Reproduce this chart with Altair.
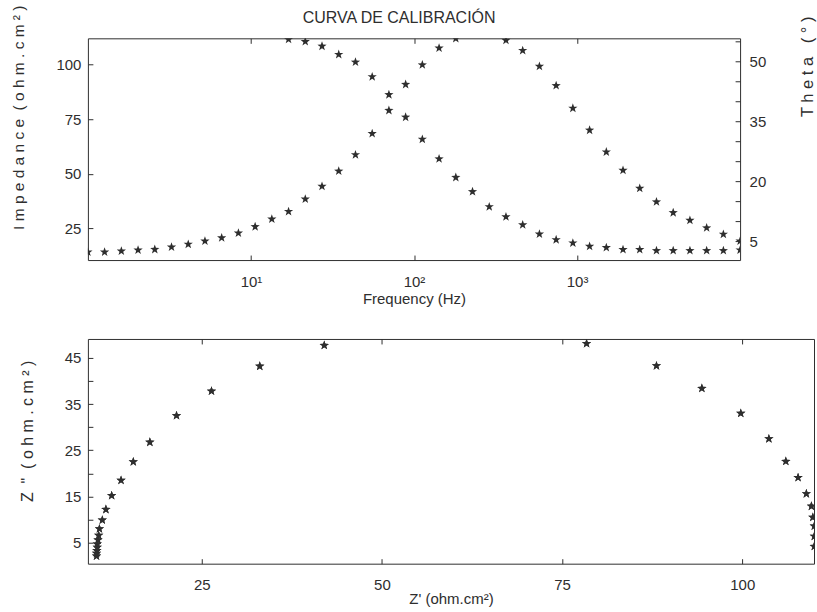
import altair as alt
import pandas as pd

# ---------------- data ----------------
chart_title = "CURVA DE CALIBRACIÓN"

freq_hz = [1.0, 1.266, 1.604, 2.031, 2.572, 3.257, 4.125, 5.223, 6.615, 8.377,
           10.61, 13.43, 17.01, 21.54, 27.28, 34.55, 43.76, 55.41, 70.17, 88.86,
           112.5, 142.5, 180.5, 228.5, 289.4, 366.5, 464.2, 587.8, 744.4, 942.7,
           1194, 1512, 1914, 2424, 3070, 3888, 4924, 6236, 7897, 10000]

theta_deg = [2.25, 2.25, 2.5, 2.75, 2.9, 3.5, 4.2, 5.0, 5.8, 7.0,
             8.6, 10.5, 12.4, 15.5, 18.7, 22.5, 26.6, 31.9, 37.7, 44.2,
             49.1, 53.3, 55.7, None, None, 55.25, 52.7, 48.75, 43.9, 38.25,
             32.75, 27.3, 22.7, 18.2, 14.8, 12.1, 10.2, 8.3, 6.7, 5.0]

impedance = [None, None, None, None, None, None, None, None, None, None,
             None, None, 111.5, 110.5, 108.4, 104.6, 101.1, 94.4, 86.2, 75.9,
             65.8, 56.8, 48.3, 41.8, 34.9, 30.3, 26.6, 22.4, 19.8, 18.3,
             16.8, 16.2, 15.3, 15.3, 14.8, 14.8, 14.8, 14.8, 14.8, 15.1]

z_real = [110.0, 110.0, 110.0, 109.8, 109.6, 108.9, 107.75, 106.05, 103.7, 99.8,
          94.4, 88.1, 78.4, 42.0, 33.05, 26.35, 21.5, 17.8, 15.5, 13.8,
          12.5, 11.7, 11.2, 10.8, 10.7, 10.6, 10.5, 10.5, 10.45, 10.4, 10.4]
z_imag = [4.2, 6.4, 8.6, 10.5, 12.9, 15.6, 19.1, 22.6, 27.5, 33.0,
          38.4, 43.3, 48.1, 47.7, 43.2, 37.8, 32.5, 26.75, 22.5, 18.5,
          15.2, 12.2, 9.9, 8.0, 6.6, 5.6, 4.7, 4.0, 3.3, 2.7, 2.1]

freq_ticks = [10, 100, 1000]
imp_ticks = [25, 50, 75, 100]
theta_ticks = [5, 10, 15, 20, 25, 30, 35, 40, 45, 50, 55]
theta_labels = [5, 20, 35, 50]
zr_ticks = [25, 50, 75, 100]
zi_ticks = [5, 10, 15, 20, 25, 30, 35, 40, 45]
zi_labels = [5, 15, 25, 35, 45]

NB = "\u00a0"
imp_title = "I m p e d a n c e" + NB + "  ( o h m . c m ² )"
theta_title = "T h e t a" + NB + NB + " ( ° )"
zi_title = "Z" + NB + " \"" + NB + " ( o h m . c m ² )"

# ---------------- styling ----------------
FONT = "Liberation Sans"
INK = "#2e2e2e"
STAR = ("M0,-1L0.24,-0.33L0.95,-0.31L0.38,0.12L0.59,0.81L0,0.4"
        "L-0.59,0.81L-0.38,0.12L-0.95,-0.31L-0.24,-0.33Z")
STAR_SIZE = 95


def label_filter(keep):
    return "indexof([" + ",".join(str(v) for v in keep) + "], datum.value) >= 0 ? datum.label : ''"


sup_expr = ("'10' + (datum.value == 10 ? '\u00b9' : datum.value == 100 ? '\u00b2' : '\u00b3')")

imp_df = pd.DataFrame({"f": freq_hz, "imp": impedance}).dropna()
theta_df = pd.DataFrame({"f": freq_hz, "theta": theta_deg}).dropna()
nyq_df = pd.DataFrame({"zr": z_real, "zi": z_imag})

W1, H1 = 653, 222
W2, H2 = 727, 225

xscale = alt.Scale(type="log", domain=[1, 10000], nice=False)

tick_common = dict(domain=False, tickSize=5, offset=-5, grid=False,
                   tickColor=INK, labelColor=INK, titleColor=INK)

imp_layer = alt.Chart(imp_df).mark_point(
    shape=STAR, filled=True, size=STAR_SIZE, color=INK, opacity=1, clip=True
).encode(
    x=alt.X("f:Q", scale=xscale,
            axis=alt.Axis(orient="bottom", values=freq_ticks, labelExpr=sup_expr,
                          title="Frequency (Hz)", labelPadding=14, titlePadding=2,
                          **tick_common)),
    y=alt.Y("imp:Q", scale=alt.Scale(domain=[10.5, 112], nice=False, zero=False),
            axis=alt.Axis(orient="left", values=imp_ticks, format="d",
                          title=imp_title,
                          titleFontSize=15.5,
                          labelPadding=7, titlePadding=29, titleY=79,
                          **tick_common)),
)

theta_layer = alt.Chart(theta_df).mark_point(
    shape=STAR, filled=True, size=STAR_SIZE, color=INK, opacity=1, clip=True
).encode(
    x=alt.X("f:Q", scale=xscale,
            axis=alt.Axis(orient="top", values=freq_ticks, labels=False, title=None,
                          **tick_common)),
    y=alt.Y("theta:Q", scale=alt.Scale(domain=[0.25, 55.75], nice=False, zero=False),
            axis=alt.Axis(orient="right", values=theta_ticks,
                          labelExpr=label_filter(theta_labels),
                          title=theta_title, titleAngle=270, titleFontSize=16.5,
                          labelPadding=9, titlePadding=50, titleY=28,
                          **tick_common)),
)

top = alt.layer(imp_layer, theta_layer).resolve_scale(
    y="independent"
).resolve_axis(x="independent", y="independent").properties(width=W1, height=H1)

zr_scale = alt.Scale(domain=[9.2, 109.96], nice=False, zero=False)
zi_scale = alt.Scale(domain=[0.46, 49.1], nice=False, zero=False)

zi_axis = alt.Axis(orient="left", values=zi_ticks,
                   labelExpr=label_filter(zi_labels),
                   title=zi_title, titleFontSize=16,
                   labelPadding=7, titlePadding=29, titleY=92,
                   **tick_common)

nyq_main = alt.Chart(nyq_df).mark_point(
    shape=STAR, filled=True, size=STAR_SIZE, color=INK, opacity=1, clip=True
).encode(
    x=alt.X("zr:Q", scale=zr_scale,
            axis=alt.Axis(orient="bottom", values=zr_ticks, title="Z' (ohm.cm²)",
                          labelPadding=14, titlePadding=-1, **tick_common)),
    y=alt.Y("zi:Q", scale=zi_scale, axis=zi_axis),
)

nyq_top = alt.Chart(nyq_df).mark_point(
    shape=STAR, filled=True, size=STAR_SIZE, color=INK, opacity=1, clip=True
).encode(
    x=alt.X("zr:Q", scale=zr_scale,
            axis=alt.Axis(orient="top", values=zr_ticks, labels=False, title=None,
                          **tick_common)),
    y=alt.Y("zi:Q", scale=zi_scale, axis=zi_axis),
)

bottom = alt.layer(nyq_main, nyq_top).resolve_axis(x="independent").properties(
    width=W2, height=H2)

chart = alt.vconcat(top, bottom, spacing=31).properties(
    title=alt.TitleParams(chart_title, font=FONT, fontSize=16, fontWeight="normal",
                          color=INK, anchor="middle", dx=-15, offset=-24),
    padding={"left": 11, "top": 1, "right": 0, "bottom": 0},
    background="white",
).configure_view(
    stroke=INK, strokeWidth=1
).configure_axis(
    labelFont=FONT, labelFontSize=15, titleFont=FONT, titleFontSize=15,
    titleFontWeight="normal"
)

chart.save("out.html", embed_options={"renderer": "svg", "actions": False})
